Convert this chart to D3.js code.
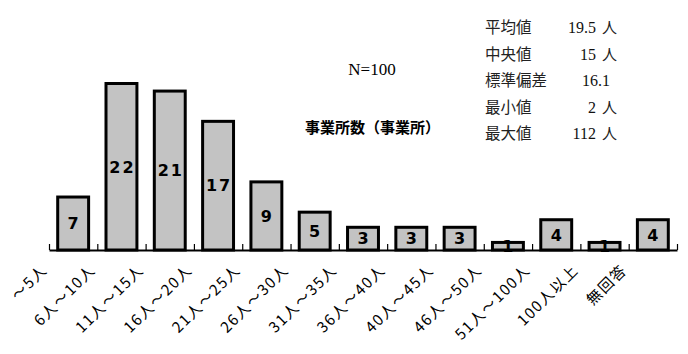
<!DOCTYPE html>
<html lang="ja">
<head>
<meta charset="UTF-8">
<title>事業所数</title>
<script src="https://d3js.org/d3.v7.min.js"></script>
<style>
  body { margin: 0; background: #fff; }
</style>
</head>
<body>
<svg id="chart" width="688" height="354"></svg>
<script>
// chart data
const categories = ["～5人", "6人～10人", "11人～15人", "16人～20人", "21人～25人", "26人～30人",
  "31人～35人", "36人～40人", "40人～45人", "46人～50人", "51人～100人", "100人以上", "無回答"];
const counts = [7, 22, 21, 17, 9, 5, 3, 3, 3, 1, 4, 1, 4];
const statNames = ["平均値", "中央値", "標準偏差", "最小値", "最大値"];
const statValues = ["19.5", "15", "16.1", "2", "112"];
const statUnits = ["人", "人", "", "人", "人"];
const noteN = "N=100";
const unitLabel = "事業所数（事業所）";

const svg = d3.select('#chart');
const jp = '"Noto Sans CJK JP", sans-serif';

const axisLeft = 49, axisRight = 677, baseY = 250;

const x = d3.scaleBand()
    .domain(categories)
    .range([axisLeft, axisRight])
    .paddingInner(0.36)
    .paddingOuter(0.18);

const y = d3.scaleLinear()
    .domain([0, 25])
    .range([baseY, 60.8]);

// bars
svg.selectAll('.bar')
    .data(counts)
    .enter().append('rect')
    .attr('class', 'bar')
    .attr('x', (d, i) => x(categories[i]))
    .attr('y', d => y(d))
    .attr('width', x.bandwidth())
    .attr('height', d => baseY - y(d))
    .attr('fill', '#c3c3c3')
    .attr('stroke', '#000')
    .attr('stroke-width', 3);

// axis with ticks at category boundaries
const idx = d3.scaleLinear().domain([0, categories.length]).range([axisLeft, axisRight]);
const axis = svg.append('g')
    .attr('transform', `translate(0,${baseY})`)
    .call(d3.axisTop(idx).tickValues(d3.range(0, categories.length + 1)).tickSize(6).tickSizeOuter(0).tickFormat(''));
axis.select('.domain').attr('stroke', '#000').attr('stroke-width', 2);
axis.selectAll('.tick line').attr('stroke', '#000').attr('stroke-width', 1.2);

// value labels
svg.selectAll('.val')
    .data(counts)
    .enter().append('text')
    .attr('class', 'val')
    .attr('x', (d, i) => x(categories[i]) + x.bandwidth() / 2 + (d >= 10 ? 1 : 0))
    .attr('y', d => (y(d) + baseY) / 2)
    .attr('dy', '0.36em')
    .attr('text-anchor', 'middle')
    .style('font-family', '"DejaVu Sans", sans-serif')
    .style('font-weight', 'bold')
    .style('font-size', '16px')
    .style('letter-spacing', d => d >= 10 ? '2px' : '0px')
    .text(d => d);

// category labels, rotated
svg.selectAll('.cat')
    .data(categories)
    .enter().append('text')
    .attr('class', 'cat')
    .attr('transform', d => `translate(${x(d) + x.bandwidth() / 2 - 25},${baseY + 21}) rotate(-45)`)
    .attr('text-anchor', 'end')
    .style('font-family', jp)
    .style('font-size', '15px')
    .style('letter-spacing', '1.5px')
    .text(d => d);

// notes
svg.append('text')
    .attr('x', 372).attr('y', 75)
    .attr('text-anchor', 'middle')
    .style('font-family', '"Liberation Serif", serif')
    .style('font-size', '17px')
    .text(noteN);

svg.append('text')
    .attr('x', 305).attr('y', 133)
    .style('font-family', jp)
    .style('font-size', '15px')
    .style('font-weight', 'bold')
    .text(unitLabel);

// statistics block
const stats = svg.append('g');
statNames.forEach((name, i) => {
    const yy = 33 + i * 26.5;
    stats.append('text')
        .attr('x', 485).attr('y', yy)
        .style('font-family', jp)
        .style('font-size', '15.5px')
        .style('fill', '#222')
        .text(name);
    stats.append('text')
        .attr('x', statUnits[i] ? 596 : 610).attr('y', yy)
        .attr('text-anchor', 'end')
        .style('font-family', '"Liberation Serif", serif')
        .style('font-size', '16px')
        .style('fill', '#111')
        .text(statValues[i]);
    if (statUnits[i]) {
        stats.append('text')
            .attr('x', 602).attr('y', yy)
            .style('font-family', jp)
            .style('font-size', '15px')
            .style('fill', '#222')
            .text(statUnits[i]);
    }
});
</script>
</body>
</html>
